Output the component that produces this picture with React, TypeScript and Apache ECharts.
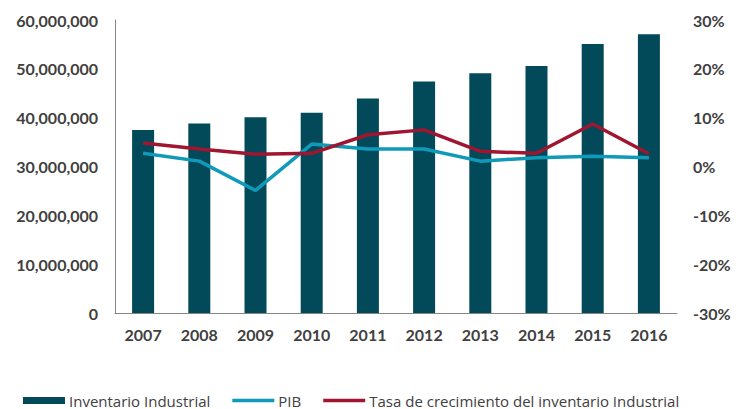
import React, { useEffect, useRef } from "react";
import * as echarts from "echarts";

const years = ["2007", "2008", "2009", "2010", "2011", "2012", "2013", "2014", "2015", "2016"];
const inventario = [37500000, 38800000, 40100000, 41000000, 43900000, 47400000, 49100000, 50600000, 55100000, 57100000];
const pib = [2.7, 1.1, -4.9, 4.6, 3.6, 3.6, 1.1, 1.8, 2.1, 1.8];
const tasa = [4.8, 3.6, 2.5, 2.7, 6.5, 7.5, 3.1, 2.7, 8.7, 2.6];

const FONT = "Lato";
const LEGEND_FONT = "Open Sans";
const TXT = "#404040";
const LINE_ICON = "path://M0,0 L42,0 L42,3.5 L0,3.5 Z";

export default function App() {
  const ref = useRef<HTMLDivElement>(null);
  useEffect(() => {
    if (!ref.current) return;
    const chart = echarts.init(ref.current, undefined, { renderer: "svg" });
    chart.setOption({
      animation: false,
      backgroundColor: "#ffffff",
      grid: { left: 115, right: 71, top: 20, bottom: 96 },
      legend: {
        left: 23,
        top: 393,
        padding: 0,
        itemWidth: 42,
        itemHeight: 7,
        itemGap: 22,
        textStyle: { fontFamily: LEGEND_FONT, fontSize: 15, lineHeight: 15, color: TXT, padding: [0, 0, 0, -1] },
        data: [
          { name: "Inventario Industrial", icon: "rect" },
          { name: "PIB", icon: LINE_ICON },
          { name: "Tasa de crecimiento del inventario Industrial", icon: LINE_ICON },
        ],
      },
      xAxis: {
        type: "category",
        data: years,
        axisLine: { lineStyle: { color: "#868686", width: 1 } },
        axisTick: { show: false },
        axisLabel: { fontFamily: FONT, fontWeight: "bold", fontSize: 16, color: TXT, margin: 13 },
      },
      yAxis: [
        {
          type: "value",
          min: 0,
          max: 60000000,
          interval: 10000000,
          axisLine: { show: true, lineStyle: { color: "#868686", width: 1 } },
          axisTick: { show: false },
          splitLine: { show: false },
          axisLabel: {
            fontFamily: FONT,
            fontWeight: "bold",
            fontSize: 16,
            color: TXT,
            margin: 17,
            formatter: (v: number) => v.toLocaleString("en-US"),
          },
        },
        {
          type: "value",
          min: -30,
          max: 30,
          interval: 10,
          axisLine: { show: false },
          axisTick: { show: false },
          splitLine: { show: false },
          axisLabel: {
            fontFamily: FONT,
            fontWeight: "bold",
            fontSize: 16,
            color: TXT,
            margin: 16,
            formatter: (v: number) => `${v}%`,
          },
        },
      ],
      series: [
        {
          name: "Inventario Industrial",
          type: "bar",
          data: inventario,
          barWidth: 22,
          itemStyle: { color: "#024A59" },
        },
        {
          name: "PIB",
          type: "line",
          yAxisIndex: 1,
          data: pib,
          symbol: "none",
          lineStyle: { color: "#0E9AB8", width: 3.5 },
          itemStyle: { color: "#0E9AB8" },
        },
        {
          name: "Tasa de crecimiento del inventario Industrial",
          type: "line",
          yAxisIndex: 1,
          data: tasa,
          symbol: "none",
          lineStyle: { color: "#A01530", width: 3.5 },
          itemStyle: { color: "#A01530" },
        },
      ],
    });
    return () => chart.dispose();
  }, []);
  return <div ref={ref} style={{ width: 748, height: 409, position: "absolute", left: 0, top: 0 }} />;
}
